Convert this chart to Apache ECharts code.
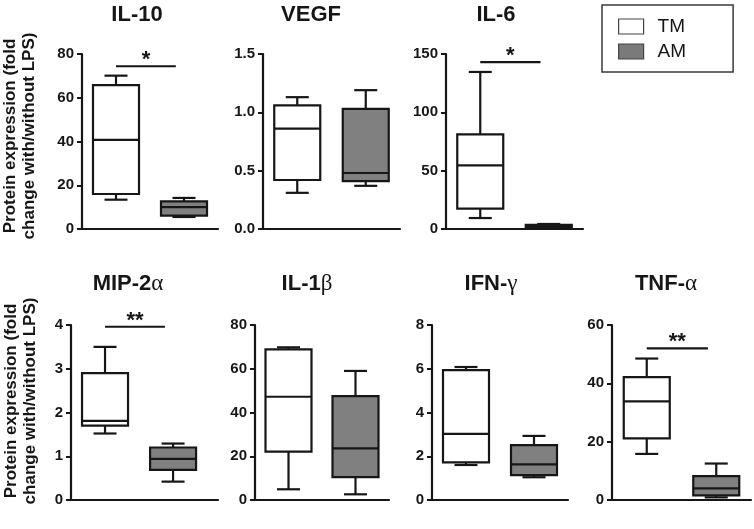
<!DOCTYPE html>
<html>
<head>
<meta charset="utf-8">
<script src="https://cdn.jsdelivr.net/npm/echarts@6/dist/echarts.min.js"></script>
<style>
  html, body { margin: 0; padding: 0; background: #fff; }
  #chart { width: 754px; height: 529px; }
</style>
</head>
<body>
<div id="chart"></div>
<script>
// panel names in drawing order (Greek letter kept apart for its font)
const panelNames = ['IL-10', 'VEGF', 'IL-6', 'MIP-2', 'IL-1', 'IFN-', 'TNF-'];
const panelGreek = ['', '', '', 'α', 'β', 'γ', 'α'];
const groups = ['TM', 'AM'];

// box values: [min, q1, median, q3, max]
const tmBoxes = [
  [13.4, 16.0, 40.7, 65.8, 70.1],
  [0.31, 0.42, 0.86, 1.06, 1.13],
  [9.4, 17.4, 54.6, 81.1, 134.6],
  [1.52, 1.70, 1.81, 2.90, 3.50],
  [4.9, 22.1, 47.2, 68.9, 69.8],
  [1.60, 1.72, 3.02, 5.94, 6.08],
  [15.8, 21.1, 33.8, 42.1, 48.5]
];
const amBoxes = [
  [5.5, 6.1, 10.0, 12.6, 14.2],
  [0.37, 0.41, 0.48, 1.03, 1.19],
  [0.5, 1.0, 2.0, 3.5, 4.3],
  [0.42, 0.69, 0.94, 1.20, 1.29],
  [2.6, 10.5, 23.6, 47.5, 59.0],
  [1.04, 1.14, 1.63, 2.51, 2.93],
  [0.9, 1.6, 4.0, 8.2, 12.5]
];

// y axis ranges
const axisMax = [80, 1.5, 150, 4, 80, 8, 60];
const axisStep = [20, 0.5, 50, 1, 20, 2, 20];
const axisDigits = [0, 1, 0, 0, 0, 0, 0];

// significance bars
const sigPanel = [0, 2, 3, 6];
const sigLevel = [74.4, 143, 3.96, 52];
const sigText = ['*', '*', '**', '**'];

const yName = 'Protein expression (fold\nchange with/without LPS)';

// where each panel sits on the page
const layout = [
  { left: 82, top: 54, width: 136, xmax: 1.5, tx: 137, ty: 15 },
  { left: 263, top: 54, width: 137, xmax: 1.5, tx: 311, ty: 15 },
  { left: 446, top: 54, width: 137, xmax: 1.5, tx: 496, ty: 15 },
  { left: 71, top: 325, width: 147, xmax: 1.66, tx: 128, ty: 284 },
  { left: 255, top: 325, width: 134, xmax: 1.5, tx: 307, ty: 284 },
  { left: 432, top: 325, width: 136, xmax: 1.5, tx: 491, ty: 284 },
  { left: 612, top: 325, width: 139, xmax: 1.5, tx: 666, ty: 284 }
];

const FONT = '"Liberation Sans", Arial, sans-serif';
const INK = '#161616';
const BOX_W = 46;
const colors = { TM: '#ffffff', AM: '#808080' };

function renderBox(params, api) {
  const x = api.value(0);
  const lo = api.coord([x, api.value(1)]);
  const q1 = api.coord([x, api.value(2)]);
  const md = api.coord([x, api.value(3)]);
  const q3 = api.coord([x, api.value(4)]);
  const hi = api.coord([x, api.value(5)]);
  const cx = lo[0];
  const hw = BOX_W / 2, cw = BOX_W / 4;
  const ln = { stroke: INK, lineWidth: 2.2 };
  return {
    type: 'group',
    children: [
      { type: 'line', shape: { x1: cx, y1: hi[1], x2: cx, y2: q3[1] }, style: ln },
      { type: 'line', shape: { x1: cx - cw, y1: hi[1], x2: cx + cw, y2: hi[1] }, style: ln },
      { type: 'line', shape: { x1: cx, y1: lo[1], x2: cx, y2: q1[1] }, style: ln },
      { type: 'line', shape: { x1: cx - cw, y1: lo[1], x2: cx + cw, y2: lo[1] }, style: ln },
      { type: 'rect', shape: { x: cx - hw, y: q3[1], width: BOX_W, height: q1[1] - q3[1] },
        style: { fill: api.visual('color'), stroke: INK, lineWidth: 2.2 } },
      { type: 'line', shape: { x1: cx - hw, y1: md[1], x2: cx + hw, y2: md[1] }, style: ln }
    ]
  };
}

function renderSig(params, api) {
  const a = api.coord([api.value(0), api.value(2)]);
  const b = api.coord([api.value(1), api.value(2)]);
  return {
    type: 'group',
    children: [
      { type: 'line', shape: { x1: a[0], y1: a[1], x2: b[0], y2: b[1] },
        style: { stroke: INK, lineWidth: 2.2 } },
      { type: 'text', x: (a[0] + b[0]) / 2, y: a[1] - 6,
        style: { text: sigText[params.seriesIndex - 14], fill: INK, font: 'bold 22px ' + FONT,
          textAlign: 'center', textVerticalAlign: 'middle' } }
    ]
  };
}

const grid = [], xAxis = [], yAxis = [], series = [], graphic = [];

layout.forEach(function (l, i) {
  grid.push({ left: l.left, top: l.top, width: l.width, height: 175 });
  xAxis.push({
    gridIndex: i, type: 'value', min: -0.5, max: l.xmax,
    axisLine: { show: true, onZero: false, lineStyle: { color: INK, width: 2.2 } },
    axisTick: { show: false }, axisLabel: { show: false }, splitLine: { show: false }
  });
  yAxis.push({
    gridIndex: i, type: 'value', min: 0, max: axisMax[i], interval: axisStep[i],
    axisLine: { show: true, onZero: false, lineStyle: { color: INK, width: 2.2 } },
    axisTick: { show: true, length: 5, lineStyle: { color: INK, width: 2 } },
    axisLabel: { color: INK, fontSize: 15, fontWeight: 'bold', fontFamily: FONT, margin: 8,
      formatter: function (v) { return v.toFixed(axisDigits[i]); } },
    splitLine: { show: false }
  });
  graphic.push({
    type: 'text', x: l.tx, y: l.ty,
    style: {
      text: '{t|' + panelNames[i] + '}' + (panelGreek[i] ? '{g|' + panelGreek[i] + '}' : ''),
      textAlign: 'center', textVerticalAlign: 'middle',
      rich: {
        t: { fontSize: 22, fontWeight: 'bold', fontFamily: FONT, fill: INK, color: INK },
        g: { fontSize: 23, fontFamily: '"Liberation Serif", serif', fill: INK, color: INK }
      }
    }
  });
});

// one custom series per box, named after the group so the legend picks them up
[tmBoxes, amBoxes].forEach(function (boxes, g) {
  boxes.forEach(function (b, i) {
    series.push({
      name: groups[g], type: 'custom', xAxisIndex: i, yAxisIndex: i,
      itemStyle: { color: colors[groups[g]] },
      renderItem: renderBox,
      encode: { x: 0, y: [1, 2, 3, 4, 5] },
      data: [[g].concat(b)]
    });
  });
});

sigPanel.forEach(function (p, k) {
  series.push({
    type: 'custom', xAxisIndex: p, yAxisIndex: p, silent: true,
    renderItem: renderSig,
    encode: { x: [0, 1], y: 2 },
    data: [[0, 0.88, sigLevel[k]]]
  });
});

// shared y axis titles
[{ x: 20, y: 136 }, { x: 21, y: 401 }].forEach(function (p) {
  graphic.push({
    type: 'text', x: p.x, y: p.y, rotation: Math.PI / 2,
    style: { text: yName, font: 'bold 17px ' + FONT, fill: INK, lineHeight: 19,
      textAlign: 'center', textVerticalAlign: 'middle' }
  });
});

const chart = echarts.init(document.getElementById('chart'));
chart.setOption({
  animation: false,
  backgroundColor: '#fff',
  grid: grid,
  xAxis: xAxis,
  yAxis: yAxis,
  legend: {
    orient: 'vertical', left: 602, top: 5,
    padding: [12, 47, 11, 16],
    borderColor: '#3a3a3a', borderWidth: 1.5,
    itemWidth: 25, itemHeight: 15, itemGap: 6,
    selectedMode: false,
    icon: 'rect',
    textStyle: { fontSize: 19, fontFamily: FONT, color: INK, lineHeight: 15, padding: [0, 0, 0, 9] },
    data: [
      { name: 'TM', itemStyle: { color: '#ffffff', borderColor: '#444', borderWidth: 1.2 } },
      { name: 'AM', itemStyle: { color: '#7a7a7a', borderColor: '#444', borderWidth: 1.2 } }
    ]
  },
  series: series,
  graphic: graphic
});
</script>
</body>
</html>
